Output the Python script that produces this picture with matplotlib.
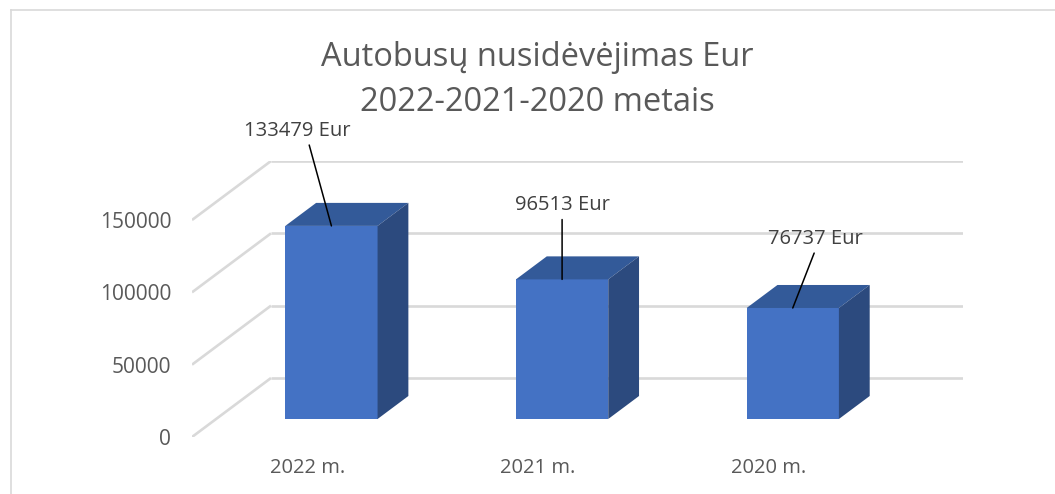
import matplotlib
matplotlib.use("Agg")
import matplotlib.pyplot as plt
from matplotlib.patches import Polygon
from matplotlib.lines import Line2D

# ---- data ----
categories = ["2022 m.", "2021 m.", "2020 m."]
values = [133479, 96513, 76737]
label_texts = ["133479 Eur", "96513 Eur", "76737 Eur"]
yticks = [0, 50000, 100000, 150000]
title_lines = ["Autobusų nusidėvėjimas Eur", "2022-2021-2020 metais"]

plt.rcParams['font.family'] = ['Open Sans', 'DejaVu Sans']
TXT = "#595959"

W, H = 1055, 494
fig = plt.figure(figsize=(W / 100, H / 100), dpi=100)

# pixel layout of the pseudo-3D box
X_LEFT, X_RIGHT = 192, 963
Y_ZERO, DXP, DYP = 437, 79, 59
PX_CAT = (X_RIGHT - DXP - X_LEFT) / len(categories)
PX_VAL = 217 / 150000
DX = DXP / PX_CAT
DY = DYP / PX_VAL
YMAX = max(yticks) + DY
ax_h = YMAX * PX_VAL
ax = fig.add_axes([X_LEFT / W, (H - Y_ZERO) / H, (X_RIGHT - X_LEFT) / W, ax_h / H])
ax.set_xlim(0, len(categories) + DX)
ax.set_ylim(0, YMAX)
ax.patch.set_visible(False)
for s in ax.spines.values():
    s.set_visible(False)

GRID = "#D9D9D9"
for v in yticks:
    ax.plot([0, DX], [v, v + DY], color=GRID, lw=1.9, zorder=1, solid_capstyle='butt')
    ax.plot([DX, len(categories) + DX], [v + DY, v + DY], color=GRID, lw=1.9, zorder=1,
            solid_capstyle='butt')

d0, dd = 0.305, 0.39
bw = 0.4
FRONT, TOP, SIDE = "#4472C4", "#335A99", "#2C4A7E"
centers = [i + 0.5 for i in range(len(categories))]
fx = [c + d0 * DX for c in centers]
y0 = d0 * DY
ax.bar(fx, values, width=bw, bottom=y0, color=FRONT, zorder=3, linewidth=0)
for x, v in zip(fx, values):
    xl, xr, yt = x - bw / 2, x + bw / 2, v + y0
    ax.add_patch(Polygon([(xl, yt), (xr, yt), (xr + dd * DX, yt + dd * DY), (xl + dd * DX, yt + dd * DY)],
                         closed=True, color=TOP, zorder=3, lw=0))
    ax.add_patch(Polygon([(xr, y0), (xr, yt), (xr + dd * DX, yt + dd * DY), (xr + dd * DX, y0 + dd * DY)],
                         closed=True, color=SIDE, zorder=3, lw=0))

# data labels with leader lines
offsets = [(-34, 95), (0, 74), (23, 69)]
relx = [0.6, 0.5, 0.5]
for x, v, t, off, rx in zip(fx, values, label_texts, offsets, relx):
    ax.annotate(t, xy=(x, v + y0), xytext=off, textcoords='offset pixels',
                ha='center', va='center', fontsize=14.5, color="#404040", zorder=5,
                arrowprops=dict(arrowstyle='-', color='black', lw=1.1, relpos=(rx, 0),
                                shrinkA=1, shrinkB=0))

ax.set_xticks(centers)
ax.set_xticklabels(categories, fontsize=14.5, color=TXT)
ax.set_yticks(yticks)
ax.set_yticklabels([str(v) for v in yticks], fontsize=15, color=TXT)
ax.tick_params(axis='x', length=0, pad=15)
ax.tick_params(axis='y', length=0, pad=15)

# titles
fig.text(537 / W, 1 - 57 / H, title_lines[0], ha='center', va='center', fontsize=23.5, color=TXT)
fig.text(537 / W, 1 - 102 / H, title_lines[1], ha='center', va='center', fontsize=23.5, color=TXT)

# chart-area border (partially visible)
fig.add_artist(Line2D([10.5 / W, 10.5 / W], [0, 1 - 10.5 / H], color="#D9D9D9", lw=1.2,
                      transform=fig.transFigure))
fig.add_artist(Line2D([10.5 / W, 1], [1 - 10.5 / H, 1 - 10.5 / H], color="#D9D9D9", lw=1.2,
                      transform=fig.transFigure))

fig.savefig("out.png", dpi=100, facecolor="white")
